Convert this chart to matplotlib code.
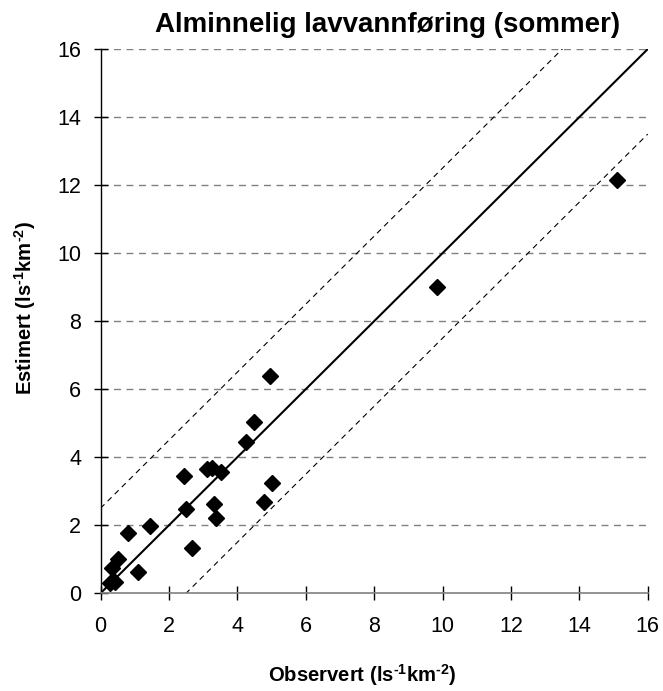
import matplotlib
matplotlib.use("Agg")
import matplotlib.pyplot as plt
import numpy as np

plt.rcParams['font.family'] = ['Liberation Sans', 'DejaVu Sans']
plt.rcParams['mathtext.fontset'] = 'custom'
plt.rcParams['mathtext.rm'] = 'Liberation Sans:bold'
plt.rcParams['mathtext.bf'] = 'Liberation Sans:bold'

# observed vs estimated (ls^-1 km^-2)
observed = [0.28, 0.42, 0.33, 0.52, 0.81, 1.10, 1.45, 2.45, 2.49, 2.68, 3.12, 3.25,
            3.52, 3.32, 3.38, 4.25, 4.49, 4.78, 5.00, 4.96, 9.84, 15.10]
estimated = [0.29, 0.34, 0.73, 1.00, 1.76, 0.63, 1.97, 3.44, 2.49, 1.34, 3.64, 3.69,
             3.57, 2.62, 2.22, 4.45, 5.03, 2.69, 3.23, 6.40, 9.00, 12.14]
band = 2.5
ticks = [0, 2, 4, 6, 8, 10, 12, 14, 16]
unit = "(ls$^{\\text{-1}}$km$^{\\text{-2}}$)"

fig = plt.figure(figsize=(6.63, 6.91), dpi=100)
ax = fig.add_axes([0.1516, 0.1414, 0.8254, 0.7876])

for y in ticks[1:]:
    ax.axhline(y, color="#808080", lw=1.0, ls=(0, (5, 4)), zorder=1)

line_x = np.array([0, 16])
ax.plot(line_x, line_x, color="black", lw=1.5, zorder=2)
ax.plot(line_x, line_x + band, color="black", lw=0.8, ls=(0, (5, 4)), zorder=2)
ax.plot(line_x, line_x - band, color="black", lw=0.8, ls=(0, (5, 4)), zorder=2)

ax.plot(observed, estimated, ls="none", marker="D", ms=8, color="black", zorder=3)

ax.set_xlim(0, 16)
ax.set_ylim(0, 16)
ax.set_xticks(ticks)
ax.set_yticks(ticks)
ax.tick_params(direction="inout", length=10, width=1, labelsize=15.5)
ax.tick_params(axis="x", pad=11)
ax.tick_params(axis="y", pad=9)
for s in ("top", "right"):
    ax.spines[s].set_visible(False)
ax.spines["left"].set_color("black")
ax.spines["bottom"].set_color("#808080")
ax.spines["left"].set_linewidth(1.0)
ax.spines["bottom"].set_linewidth(1.2)

fig.text(0.585, 0.953, "Alminnelig lavvannføring (sommer)", fontsize=20,
         fontweight="bold", ha="center", va="baseline")
fig.text(268 / 663, 9 / 691, "Observert " + unit,
         fontsize=14.6, fontweight="bold", ha="left", va="baseline")
fig.text(32 / 663, 1 - 395 / 691, "Estimert " + unit,
         fontsize=14.6, fontweight="bold", ha="left", va="baseline",
         rotation=90, rotation_mode="anchor")

fig.savefig("out.png", dpi=100)
